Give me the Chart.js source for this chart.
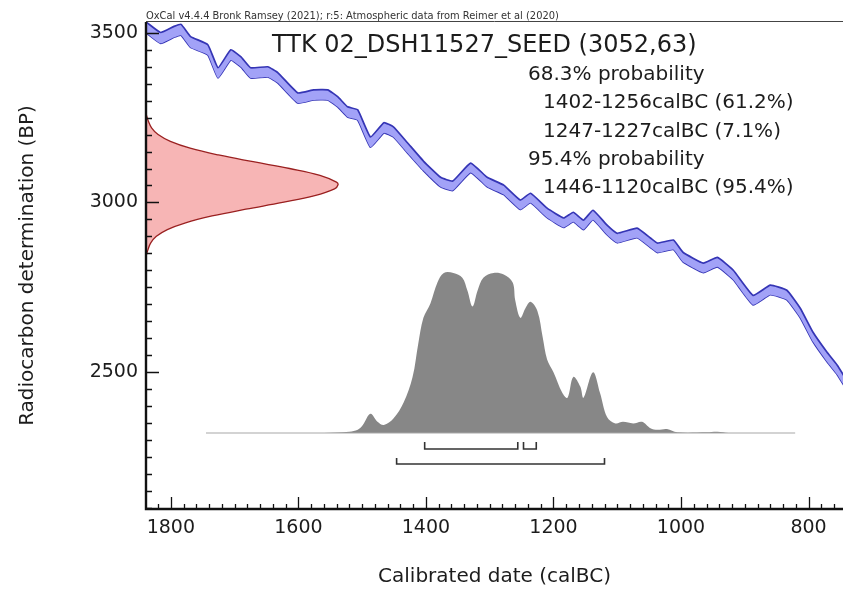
<!DOCTYPE html>
<html>
<head>
<title>OxCal calibration - TTK 02_DSH11527_SEED</title>
<script src="https://cdn.jsdelivr.net/npm/chart.js"></script>
<style>
  body { margin: 0; background: #fff; }
  #wrap { width: 843px; height: 590px; position: relative; }
</style>
</head>
<body>
<div id="wrap"><canvas id="myChart"></canvas></div>
<script>
// IntCal20 band: calBC, BP, 1 sigma
var curveYear = [1838, 1816, 1795, 1784, 1769, 1742, 1726, 1706, 1690, 1675,
                 1648, 1632, 1601, 1576, 1554, 1538, 1523, 1507, 1487, 1466,
                 1451, 1429, 1404, 1377, 1358, 1330, 1304, 1278, 1252, 1236,
                 1210, 1184, 1169, 1153, 1138, 1116, 1100, 1069, 1048, 1037,
                 1012, 997, 965, 943, 918, 887, 860, 834, 813, 793,
                 771, 755, 743];
var curveBP = [3515, 3485, 3503, 3509, 3473, 3450, 3382, 3435, 3414, 3382,
               3385, 3367, 3308, 3317, 3317, 3296, 3267, 3258, 3178, 3220,
               3208, 3161, 3108, 3060, 3049, 3102, 3060, 3037, 2993, 3013,
               2969, 2940, 2957, 2934, 2963, 2919, 2895, 2910, 2881, 2866,
               2875, 2839, 2807, 2824, 2786, 2712, 2742, 2727, 2674, 2603,
               2544, 2506, 2470];
var curveErr = [16, 16, 16, 16, 16, 15, 15, 15, 15, 15,
                15, 15, 15, 15, 15, 15, 15, 15, 15, 15,
                15, 15, 14, 14, 14, 14, 14, 14, 14, 14,
                14, 14, 14, 14, 14, 14, 14, 14, 14, 14,
                14, 14, 14, 14, 14, 14, 14, 14, 14, 14,
                14, 14, 14];

// measured date 3052 +/- 63 BP, relative height of the red profile
var dateBP = [3262, 3240, 3220, 3200, 3180, 3160, 3140, 3120, 3100, 3080, 3060, 3052,
              3040, 3020, 3000, 2980, 2960, 2940, 2920, 2900, 2880, 2860, 2842];
var dateDens = [0, 0.012, 0.029, 0.063, 0.127, 0.23, 0.377, 0.558, 0.748, 0.906, 0.992, 1,
                0.982, 0.879, 0.711, 0.52, 0.344, 0.206, 0.111, 0.054, 0.024, 0.01, 0];

// calibrated distribution, relative probability
var calYear = [1560, 1520, 1507, 1499, 1487, 1476, 1466, 1451, 1435, 1421,
               1412, 1404, 1393, 1382, 1372, 1357, 1343, 1335, 1327, 1319,
               1310, 1294, 1278, 1264, 1260, 1252, 1244, 1236, 1225, 1217,
               1210, 1200, 1186, 1178, 1169, 1158, 1153, 1138, 1127, 1116,
               1103, 1091, 1075, 1061, 1048, 1037, 1022, 1006, 960, 943,
               925];
var calProb = [0, 0.008, 0.02, 0.05, 0.12, 0.07, 0.05, 0.09, 0.19, 0.35,
               0.56, 0.72, 0.81, 0.94, 1.0, 1.0, 0.97, 0.89, 0.79, 0.89,
               0.97, 1.0, 0.99, 0.94, 0.83, 0.72, 0.78, 0.82, 0.76, 0.60,
               0.46, 0.38, 0.25, 0.22, 0.35, 0.29, 0.22, 0.38, 0.25, 0.10,
               0.06, 0.07, 0.06, 0.07, 0.03, 0.02, 0.025, 0.004, 0.004, 0.008,
               0];
var calSpan = [1745, 821];

var range68 = [[1402, 1256], [1247, 1227]];
var range95 = [[1446, 1120]];

var xTicks = [1800, 1600, 1400, 1200, 1000, 800];
var yTicks = [2500, 3000, 3500];

var header = 'OxCal v4.4.4 Bronk Ramsey (2021); r:5: Atmospheric data from Reimer et al (2020)';
var sampleName = 'TTK 02_DSH11527_SEED (3052,63)';
var summary = ['68.3% probability', '1402-1256calBC (61.2%)', '1247-1227calBC (7.1%)',
               '95.4% probability', '1446-1120calBC (95.4%)'];
var summaryIndent = [0, 1, 1, 0, 1];

var FONT = '"DejaVu Sans", "Liberation Sans", sans-serif';
var INK = '#1c1c1c';

var upper = curveYear.map(function(y, i) { return {x: y, y: curveBP[i] + curveErr[i]}; });
var lower = curveYear.map(function(y, i) { return {x: y, y: curveBP[i] - curveErr[i]}; });
var dateShape = dateBP.map(function(b, i) { return {x: dateDens[i], y: b}; });
var calShape = calYear.map(function(y, i) { return {x: y, y: calProb[i]}; });

function bracket(r, low, high) {
  return {
    data: [{x: r[0], y: high}, {x: r[0], y: low}, {x: r[1], y: low}, {x: r[1], y: high}],
    xAxisID: 'x', yAxisID: 'y2',
    borderColor: '#333', borderWidth: 1.6, fill: false, pointRadius: 0
  };
}

var datasets = [
  { data: upper, xAxisID: 'x', yAxisID: 'y', borderColor: '#3535b5', borderWidth: 1.7,
    backgroundColor: '#a2a2f7', fill: '+1', tension: 0.12, pointRadius: 0 },
  { data: lower, xAxisID: 'x', yAxisID: 'y', borderColor: '#3535b5', borderWidth: 1.7,
    fill: false, tension: 0.12, pointRadius: 0 },
  { data: dateShape, xAxisID: 'x2', yAxisID: 'y', borderColor: '#9a2020', borderWidth: 1.3,
    backgroundColor: '#f7b5b5', fill: 'shape', tension: 0.4, pointRadius: 0 },
  { data: [{x: calSpan[0], y: 0}, {x: calSpan[1], y: 0}], xAxisID: 'x', yAxisID: 'y2',
    borderColor: '#a8a8a8', borderWidth: 1.2, fill: false, pointRadius: 0 },
  { data: calShape, xAxisID: 'x', yAxisID: 'y2', borderWidth: 0, borderColor: '#888',
    backgroundColor: '#878787', fill: 'shape', tension: 0.35, pointRadius: 0 }
];
range68.forEach(function(r) { datasets.push(bracket(r, -0.1, -0.056)); });
range95.forEach(function(r) { datasets.push(bracket(r, -0.194, -0.156)); });

// OxCal style: inward ticks, heavy axes, header and result text
var oxcalFrame = {
  id: 'oxcalFrame',
  afterDatasetsDraw: function(chart) {
    var ctx = chart.ctx, a = chart.chartArea;
    var xs = chart.scales.x, ys = chart.scales.y;
    ctx.save();
    ctx.strokeStyle = '#111';
    ctx.lineWidth = 1.3;
    ctx.beginPath();
    for (var v = Math.ceil(xs.min / 20) * 20; v <= xs.max; v += 20) {
      var px = Math.round(xs.getPixelForValue(v)) + 0.5;
      var len = v % 200 === 0 ? 12 : 5;
      ctx.moveTo(px, a.bottom);
      ctx.lineTo(px, a.bottom - len);
    }
    for (var b = Math.ceil(ys.min / 50) * 50; b <= ys.max; b += 50) {
      var py = Math.round(ys.getPixelForValue(b)) + 0.5;
      var l2 = b % 500 === 0 ? 13 : 6;
      ctx.moveTo(a.left, py);
      ctx.lineTo(a.left + l2, py);
    }
    ctx.stroke();
    ctx.lineWidth = 2.4;
    ctx.beginPath();
    ctx.moveTo(a.left, a.top);
    ctx.lineTo(a.left, a.bottom);
    ctx.lineTo(a.right, a.bottom);
    ctx.stroke();
    ctx.lineWidth = 1;
    ctx.strokeStyle = '#444';
    ctx.beginPath();
    ctx.moveTo(a.left, a.top - 0.5);
    ctx.lineTo(a.right, a.top - 0.5);
    ctx.stroke();
    ctx.restore();
  },
  afterDraw: function(chart) {
    var ctx = chart.ctx;
    ctx.save();
    ctx.fillStyle = '#333';
    ctx.textBaseline = 'alphabetic';
    ctx.font = '9.9px ' + FONT;
    ctx.fillText(header, 146, 19);
    ctx.fillStyle = INK;
    ctx.font = '24px ' + FONT;
    ctx.fillText(sampleName, 272, 52);
    ctx.font = '20px ' + FONT;
    summary.forEach(function(t, i) {
      ctx.fillText(t, 528 + summaryIndent[i] * 15, 80 + i * 28.3);
    });
    ctx.restore();
  }
};

new Chart(document.getElementById('myChart'), {
  type: 'line',
  data: { datasets: datasets },
  plugins: [oxcalFrame],
  options: {
    responsive: true,
    maintainAspectRatio: false,
    animation: false,
    layout: { padding: { top: 22, right: 0, bottom: 0, left: 0 } },
    plugins: { legend: { display: false }, tooltip: { enabled: false } },
    scales: {
      x: {
        type: 'linear', reverse: true, min: 746, max: 1839,
        afterBuildTicks: function(s) { s.ticks = xTicks.map(function(v) { return {value: v}; }); },
        afterFit: function(s) { s.height = 81; },
        grid: { display: false, drawTicks: false },
        border: { display: false },
        ticks: { font: { family: FONT, size: 19 }, color: INK, padding: 8, maxRotation: 0,
                 autoSkip: false, callback: function(v) { return String(v); } },
        title: { display: true, text: 'Calibrated date (calBC)', color: INK,
                 font: { family: FONT, size: 20 }, padding: { top: 0, bottom: 1 } }
      },
      y: {
        type: 'linear', min: 2096, max: 3532,
        afterBuildTicks: function(s) { s.ticks = yTicks.map(function(v) { return {value: v}; }); },
        afterFit: function(s) { s.width = 146; },
        grid: { display: false, drawTicks: false },
        border: { display: false },
        ticks: { font: { family: FONT, size: 19 }, color: INK, padding: 8,
                 callback: function(v) { return String(v); } },
        title: { display: true, text: 'Radiocarbon determination (BP)', color: INK,
                 font: { family: FONT, size: 20 }, padding: { top: 16, bottom: 0 } }
      },
      x2: { type: 'linear', display: false, min: 0, max: 3.63 },
      y2: { type: 'linear', display: false, min: -0.475, max: 2.569 }
    }
  }
});
</script>
</body>
</html>
